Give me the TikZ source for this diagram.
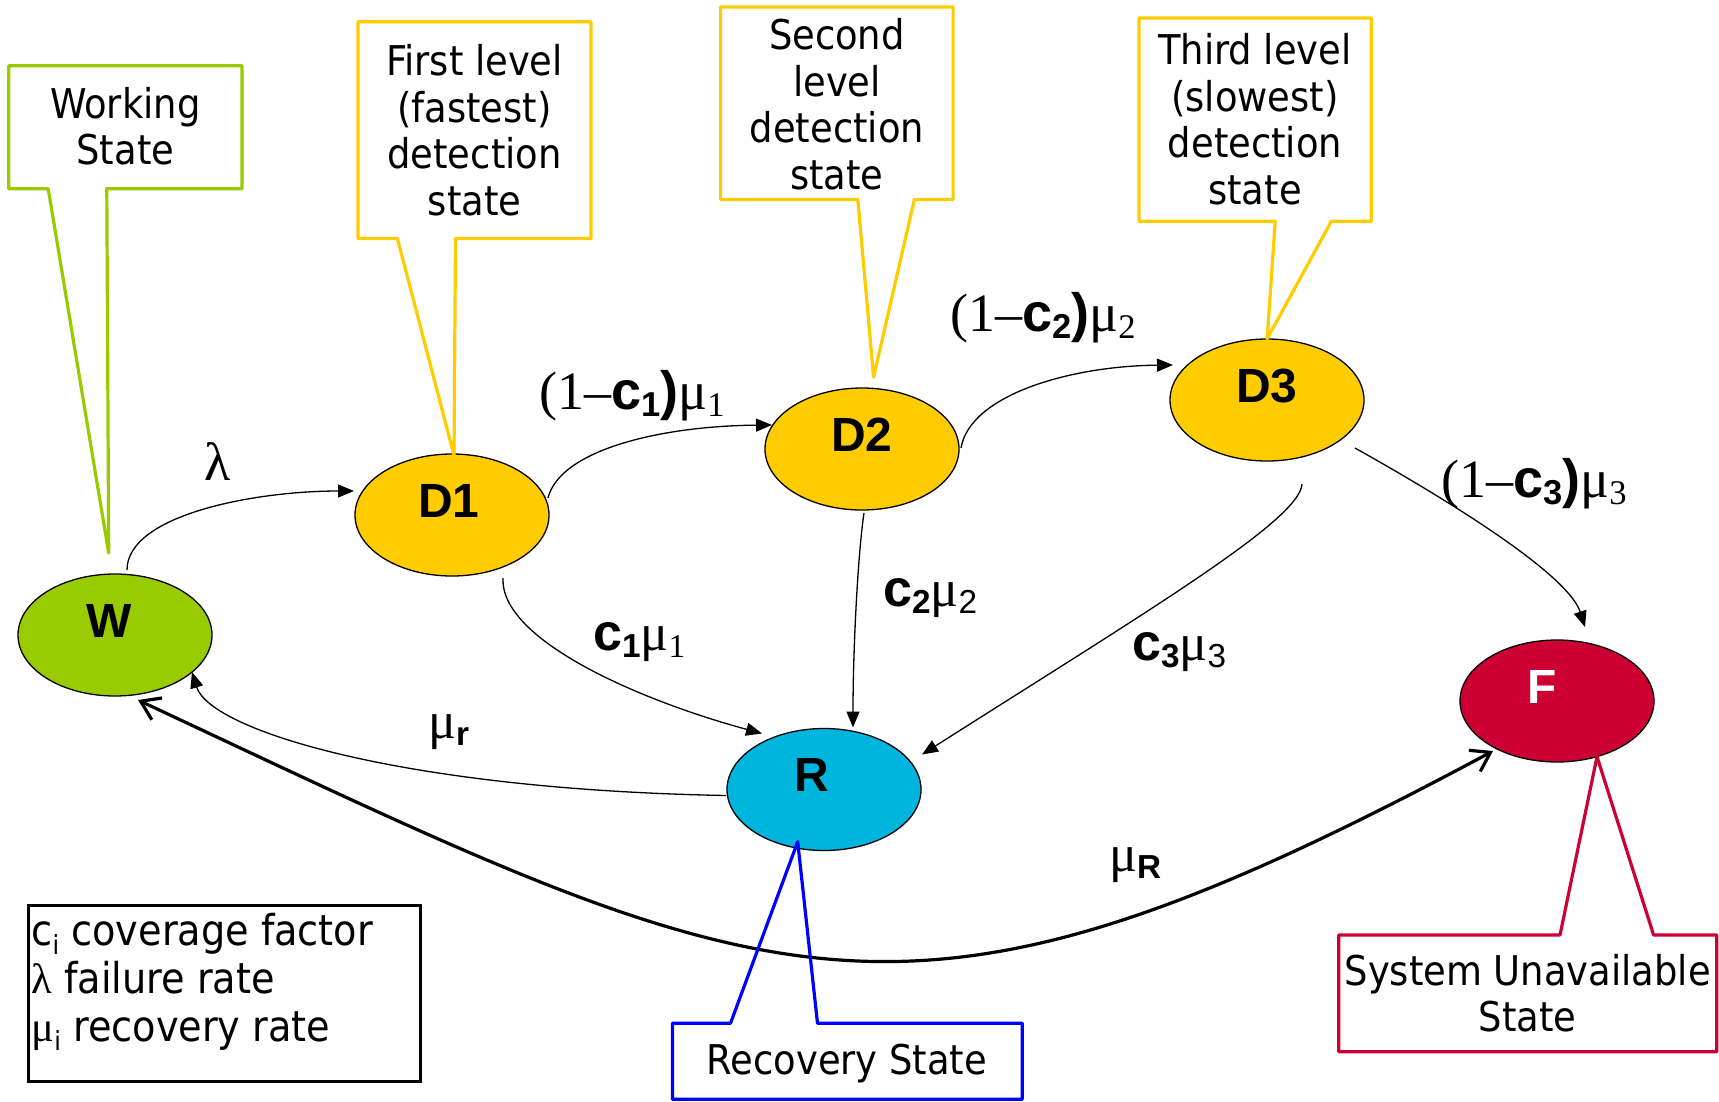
\documentclass[tikz,border=0pt]{standalone}
\usepackage{fontspec}
\usepackage{graphicx}
\usetikzlibrary{shapes.geometric,arrows.meta,calc}
\newfontfamily\tnr{Liberation Serif}
\newfontfamily\arb{Liberation Sans}
\IfFontExistsTF{DejaVu Sans Condensed}{\newfontfamily\cfont{DejaVu Sans Condensed}}{\newfontfamily\cfont{Liberation Sans}}
\definecolor{wgreen}{HTML}{99CC00}
\definecolor{dyellow}{HTML}{FFCC00}
\definecolor{rcyan}{HTML}{00B5DD}
\definecolor{fred}{HTML}{CC0033}
\definecolor{rblue}{HTML}{0000FF}
\newcommand\sbs[1]{\raisebox{-0.14em}{\scalebox{0.64}{#1}}}
\newcommand\lsb[1]{\raisebox{-0.2em}{\scalebox{0.62}{#1}}}
\newcommand\lbl[2]{\smash{\raisebox{-2pt}{\makebox[0pt]{\hspace*{#2}#1}}}}
\tikzset{
  st/.style={ellipse, draw=black, line width=1.3pt, minimum width=194pt, minimum height=122pt, inner sep=0pt, font=\fontsize{48}{48}\selectfont\arb\bfseries},
  ar/.style={line width=1.3pt, -{Triangle[length=16pt,width=13pt]}},
  thk/.style={line width=3.2pt, {Straight Barb[length=18pt,width=24pt]}-{Straight Barb[length=18pt,width=24pt]}},
  co/.style={line width=3.2pt, line join=round},
  ctext/.style={font=\fontsize{41}{46.5}\selectfont\cfont, align=center, inner sep=0pt},
  elab/.style={font=\fontsize{54}{54}\selectfont, anchor=base west, inner sep=0pt},
  elabs/.style={font=\fontsize{52}{52}\selectfont, anchor=base west, inner sep=0pt},
}
\begin{document}
\begin{tikzpicture}[x=1pt,y=-1pt]
\fill[white] (0,0) rectangle (1719,1101);
\useasboundingbox (0,0) rectangle (1719,1101);

% states
\node[st, fill=wgreen]  (W)  at (115,635)   {\lbl{W}{-12pt}};
\node[st, fill=dyellow] (D1) at (452,515)   {\lbl{D1}{-6pt}};
\node[st, fill=dyellow] (D2) at (862,449)   {\lbl{D2}{0pt}};
\node[st, fill=dyellow] (D3) at (1267,400)  {\lbl{D3}{0pt}};
\node[st, fill=rcyan]   (R)  at (824,789.5) {\lbl{R}{-24pt}};
\node[st, fill=fred, text=white] (F) at (1557,701) {\lbl{F}{-30pt}};

% transitions
\draw[ar] ($(W)+(12,-65)$) .. controls +(0,-55) and +(-100,0) .. ($(D1)+(-98,-24)$);
\draw[ar] ($(D1)+(96,-17)$) .. controls +(12,-48) and +(-112,1) .. ($(D2)+(-90,-24)$);
\draw[ar] ($(D2)+(99,-1)$) .. controls +(9,-53) and +(-103,1) .. ($(D3)+(-94,-35)$);
\draw[ar] ($(D3)+(88,48)$) .. controls +(125,70) and +(-15,-47) .. ($(F)+(28,-74)$);
\draw[ar] ($(D1)+(51,63)$) .. controls +(-3,62) and +(-122,-33) .. ($(R)+(-62,-56)$);
\draw[ar] ($(D2)+(2,64)$) .. controls +(-6,40) and +(0,-80) .. ($(R)+(29,-62)$);
\draw[ar] ($(D3)+(35,84)$) .. controls +(-2,36) and +(228,-145) .. ($(R)+(98,-35)$);
\draw[ar] ($(R)+(-98,6)$) .. controls +(-326,-6) and +(18,58) .. ($(W)+(77,37)$);
\draw[thk] ($(W)+(23,65)$) .. controls +(640,300) and +(-600,322) .. ($(F)+(-64,50)$);

% transition labels
\node[elab] (lam) at (204,480) {\tnr λ};
\node[elab] (l1) at (539,409) {{\tnr (1–}{\arb\bfseries c\sbs{1})}{\tnr μ\sbs{1}}};
\node[elab] (l2) at (950,331) {{\tnr (1–}{\arb\bfseries c\sbs{2})}{\tnr μ\sbs{2}}};
\node[elab] (l3) at (1441,497) {{\tnr (1–}{\arb\bfseries c\sbs{3})}{\tnr μ\sbs{3}}};
\node[elabs] (k1) at (593,650) {{\arb\bfseries c\sbs{1}}{\tnr μ\sbs{1}}};
\node[elabs] (k2) at (883,606) {{\arb\bfseries c\sbs{2}}{\tnr μ}{\arb\sbs{2}}};
\node[elabs] (k3) at (1132,660) {{\arb\bfseries c\sbs{3}}{\tnr μ}{\arb\sbs{3}}};
\node[elabs] (mr) at (428,738) {{\tnr μ}{\arb\bfseries\sbs{r}}};
\node[elabs] (mR) at (1109,871) {{\tnr μ}{\arb\bfseries\sbs{R}}};

% callouts
\draw[co, draw=wgreen] (8.7,65.8) -- (242,65.8) -- (242,188.7) -- (106.8,188.7) -- (108.7,553) -- (48.2,188.7) -- (8.7,188.7) -- cycle;
\node[ctext] (cW) at (125.4,126.3) {Working\\State};
\draw[co, draw=dyellow] (358,21.8) -- (591,21.8) -- (591,238.4) -- (455.5,238.4) -- (454,455.4) -- (397.4,238.4) -- (358,238.4) -- cycle;
\node[ctext] (cD1) at (474.5,130) {First level\\(fastest)\\detection\\state};
\draw[co, draw=dyellow] (720.6,6.9) -- (953.1,6.9) -- (953.1,199.4) -- (914.4,199.4) -- (873.6,377) -- (857.8,199.4) -- (720.6,199.4) -- cycle;
\node[ctext] (cD2) at (836.9,104) {Second\\level\\detection\\state};
\draw[co, draw=dyellow] (1139,18) -- (1371.3,18) -- (1371.3,221.2) -- (1331.4,221.2) -- (1267.2,338.7) -- (1275.2,221.2) -- (1139,221.2) -- cycle;
\node[ctext] (cD3) at (1255,119) {Third level\\(slowest)\\detection\\state};
\draw[co, draw=rblue] (672.4,1023.3) -- (730.5,1023.3) -- (797.7,841.7) -- (817.5,1023.3) -- (1022.3,1023.3) -- (1022.3,1099.3) -- (672.4,1099.3) -- cycle;
\node[ctext] (cR) at (847,1064) {Recovery State};
\draw[co, draw=fred] (1338.7,935) -- (1560,935) -- (1597,756.7) -- (1653.6,935) -- (1716.8,935) -- (1716.8,1051.7) -- (1338.7,1051.7) -- cycle;
\node[ctext] (cF) at (1527.7,993) {System Unavailable\\State};

% legend
\draw[line width=3pt] (28.9,905) rectangle (420.3,1081.7);
\node[anchor=west, inner sep=0pt, align=left, font=\fontsize{42.5}{48}\selectfont\cfont] (leg) at (31.5,982)
  {c\lsb{i} coverage factor\\{\tnr λ} failure rate\\{\tnr μ}\lsb{i} recovery rate};
\end{tikzpicture}
\end{document}
